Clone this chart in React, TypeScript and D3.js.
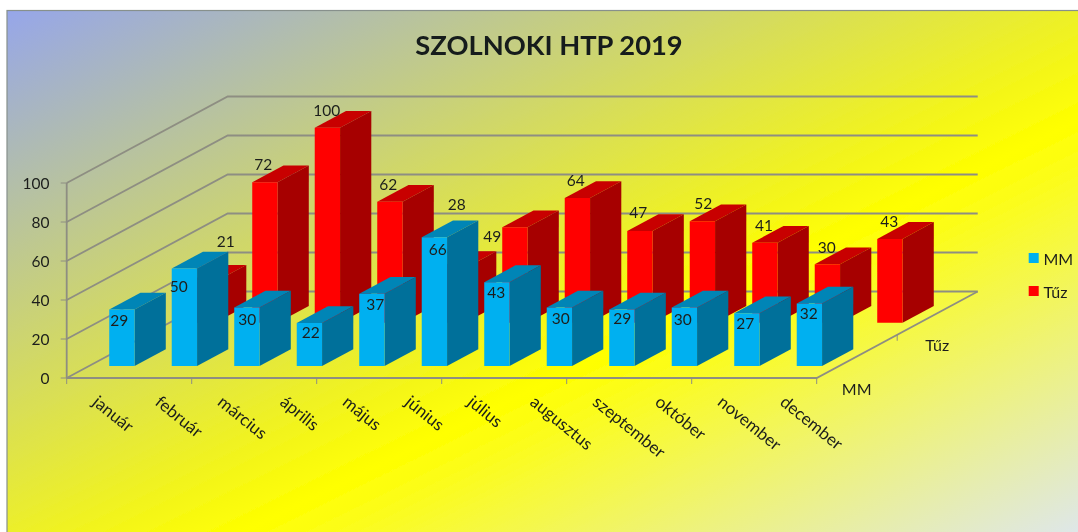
import React from "react";
import * as d3 from "d3";

const categories = ["január","február","március","április","május","június","július","augusztus","szeptember","október","november","december"];
const seriesNames = ["MM","Tűz"];
const mmValues = [29,50,30,22,37,66,43,30,29,30,27,32];
const tuzValues = [21,72,100,62,28,49,64,47,52,41,30,43];
const valueTicks = [0,20,40,60,80,100];
const chartTitle = "SZOLNOKI HTP 2019";

// label placement relative to each bar's top-front-left corner
const mmNudge: [number,number][] = [[10,11],[7,18],[13,12],[14,9],[16,10],[16,12],[12,10],[14,11],[13,9],[11,12],[11,10],[12,9]];
const tuzNudge: [number,number][] = [[36,-41],[11,-18.5],[12,-18],[11,-17.5],[17,-64],[-10,8.7],[11,-18],[11,-19],[13.5,-18],[11.7,-18],[12,-17.3],[12,-18]];

const W = 1078, H = 532;
const FONT = "Lato, Carlito, Calibri, sans-serif";
const INK = "#1c1f1c";
const GRID = "#8e8e82";
const palette = [
  { front:"#00B0F0", side:"#00709A", top:"#0085B6" },
  { front:"#FF0000", side:"#A60000", top:"#C80000" },
];

const ox = 66.7, oy = 378;
const catPos = d3.scaleLinear().domain([0,12]).range([0,750]);
const valPos = d3.scaleLinear().domain([0,100]).range([0,-195]);
const depX = d3.scaleLinear().domain([0,1]).range([0,161]);
const depY = d3.scaleLinear().domain([0,1]).range([0,-86.5]);
const catBand = d3.scaleBand<string>().domain(categories).range([0.025,12.025]).paddingInner(0.595).paddingOuter(0.2975);
const serBand = d3.scaleBand<string>().domain(seriesNames).range([-0.014,0.986]).paddingInner(0.612).paddingOuter(0.306);

const P = (c:number, v:number, z:number):[number,number] => [ox+catPos(c)+depX(z), oy+valPos(v)+depY(z)];
const path = (pts:[number,number][]) => d3.line()(pts)+"Z";

function Bar({cat,value,series}:{cat:string;value:number;series:number}) {
  const c0 = catBand(cat)!, c1 = c0+catBand.bandwidth();
  const z0 = serBand(seriesNames[series])!, z1 = z0+serBand.bandwidth();
  const col = palette[series];
  return <g>
    <path d={path([P(c0,value,z0),P(c1,value,z0),P(c1,value,z1),P(c0,value,z1)])} fill={col.top}/>
    <path d={path([P(c1,0,z0),P(c1,value,z0),P(c1,value,z1),P(c1,0,z1)])} fill={col.side}/>
    <path d={path([P(c0,0,z0),P(c1,0,z0),P(c1,value,z0),P(c0,value,z0)])} fill={col.front}/>
  </g>;
}

export default function App() {
  const seriesData = [mmValues, tuzValues];
  const labelFor = (values:number[], nudge:[number,number][], s:number) => values.map((v,i)=>{
    const [x,y] = P(catBand(categories[i])!, v, serBand(seriesNames[s])!);
    return <text key={s+"-"+i} x={x+nudge[i][0]} y={y+nudge[i][1]} textAnchor="middle" dominantBaseline="central" fontSize={15.5} fill={INK}>{v}</text>;
  });
  return (
    <svg width={W} height={H} viewBox={`0 0 ${W} ${H}`} style={{position:"absolute",left:0,top:0,display:"block",background:"#fff"}} fontFamily={FONT}>
      <defs>
        <linearGradient id="bg" x1="0" y1="0" x2="1" y2="1">
          <stop offset="0" stopColor="#96A6EA"/>
          <stop offset="0.6" stopColor="#FFFF00"/>
          <stop offset="1" stopColor="#DDE6F0"/>
        </linearGradient>
        <filter id="soft" x="-2%" y="-2%" width="104%" height="104%">
          <feGaussianBlur stdDeviation="0.45"/>
        </filter>
      </defs>
      <g filter="url(#soft)">
      <rect x={7} y={10.5} width={W} height={H} fill="url(#bg)" stroke="#87908c" strokeWidth={1.2}/>
      <text x={549} y={54.5} textAnchor="middle" fontSize={27.3} fontWeight={700} fill="#141a1a">{chartTitle}</text>

      <g stroke={GRID} strokeWidth={1.8} fill="none">
        {valueTicks.map(v=>{
          const a=P(0,v,0), b=P(0,v,1), c=P(12,v,1);
          return <g key={v}>
            <path d={d3.line()([a,b,c])!}/>
            <line x1={a[0]-6} x2={a[0]} y1={a[1]} y2={a[1]} strokeWidth={1}/>
          </g>;
        })}
        <line x1={P(0,0,0)[0]} y1={P(0,0,0)[1]} x2={P(0,100,0)[0]} y2={P(0,100,0)[1]}/>
        <path d={d3.line()([P(0,0,0),P(12,0,0),P(12,0,1)])!}/>
        {d3.range(0,13,2).map(c=>{const p=P(c,0,0);return <line key={c} x1={p[0]} x2={p[0]} y1={p[1]} y2={p[1]+6} strokeWidth={1}/>;})}
        {[0.5].map(z=>{const p=P(12,0,z);return <line key={z} x1={p[0]} x2={p[0]} y1={p[1]} y2={p[1]+6} strokeWidth={1}/>;})}
      </g>

      {valueTicks.map(v=>(
        <text key={v} x={49.5} y={P(0,v,0)[1]} textAnchor="end" dominantBaseline="central" fontSize={15.5} fill={INK}>{v}</text>
      ))}
      {categories.map((c,i)=>{
        const x=P(i,0,0)[0]+29, y=399;
        return <text key={c} transform={`translate(${x},${y}) rotate(39)`} fontSize={17} dominantBaseline="central" fill={INK}>{c}</text>;
      })}
      {seriesNames.map(s=>{
        const z=serBand(s)!+serBand.bandwidth()/2;
        const p=P(12,0,z);
        return <text key={s} x={p[0]+2} y={p[1]+30.5} textAnchor="middle" dominantBaseline="central" fontSize={16} fill={INK}>{s}</text>;
      })}

      {seriesData.slice().reverse().map((vals,r)=>{
        const s=seriesData.length-1-r;
        return <g key={s}>{vals.map((v,i)=><Bar key={i} cat={categories[i]} value={v} series={s}/>)}</g>;
      })}
      {labelFor(tuzValues,tuzNudge,1)}
      {labelFor(mmValues,mmNudge,0)}

      {seriesNames.map((s,i)=>{
        const y=258+i*33;
        return <g key={s}>
          <rect x={1028.7} y={y-5} width={10} height={10} fill={palette[i].front}/>
          <text x={1043.5} y={y} dominantBaseline="central" fontSize={16} fill={INK}>{s}</text>
        </g>;
      })}
      </g>
    </svg>
  );
}
